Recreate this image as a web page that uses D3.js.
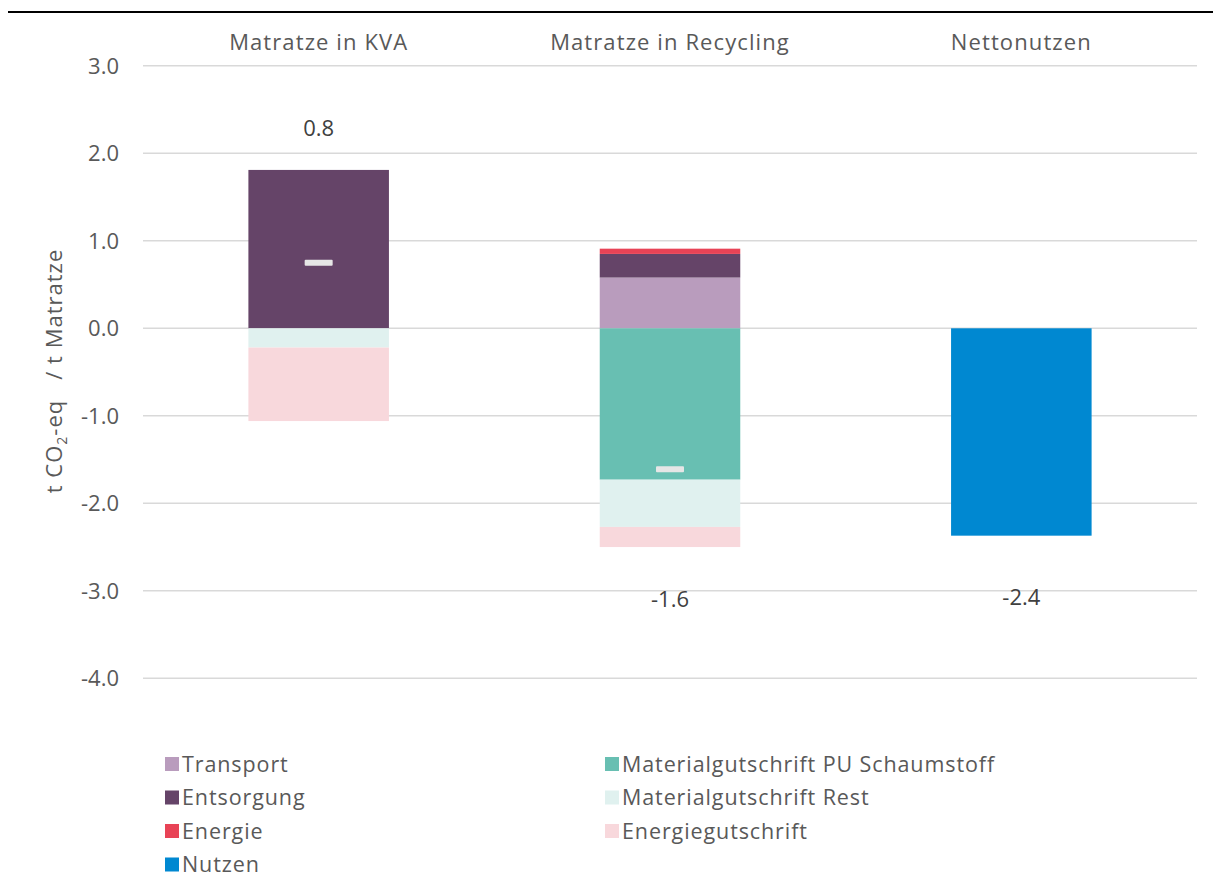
<!DOCTYPE html>
<html>
<head>
<meta charset="utf-8">
<script src="https://cdn.jsdelivr.net/npm/d3@7"></script>
<style>
  body { margin: 0; background: #fff; }
  text { font-family: "Open Sans", Lato, sans-serif; white-space: pre; }
</style>
</head>
<body>
<div id="chart"></div>
<script>
var categories = ["Matratze in KVA", "Matratze in Recycling", "Nettonutzen"];

var transport = [0, 0.58, 0];
var entsorgung = [1.81, 0.27, 0];
var energie = [0, 0.06, 0];
var matPU = [0, -1.73, 0];
var matRest = [-0.22, -0.54, 0];
var energieGut = [-0.84, -0.23, 0];
var nutzen = [0, 0, -2.37];

// Netto-Markierung und Beschriftung
var netto = [0.75, -1.61, null];
var nettoLabel = [0.8, -1.6, -2.4];
var labelAt = [2.29, -3.10, -3.07];

var yTicks = [3, 2, 1, 0, -1, -2, -3, -4];

var seriesNames = ["Transport", "Entsorgung", "Energie", "Materialgutschrift PU Schaumstoff",
    "Materialgutschrift Rest", "Energiegutschrift", "Nutzen"];
var seriesValues = [transport, entsorgung, energie, matPU, matRest, energieGut, nutzen];
var seriesColors = ["#b99cbd", "#654468", "#e84356", "#68bfb2", "#e0f1ef", "#f8d8dc", "#0088d1"];

var fmt = function (v) { return d3.format(".1f")(v).replace("\u2212", "-"); };

var width = 1213, height = 877;
var svg = d3.select("#chart").append("svg").attr("width", width).attr("height", height);

// top rule
svg.append("line").attr("x1", 8).attr("x2", width).attr("y1", 12).attr("y2", 12)
    .attr("stroke", "#000").attr("stroke-width", 2);

var x = d3.scaleBand().domain(categories).range([143, 1197]).padding(0);
var y = d3.scaleLinear().domain([-4, 3]).range([678.3, 65.8]);
var barW = x.bandwidth() * 0.4;

// grid
svg.append("g").selectAll("line").data(yTicks).enter().append("line")
    .attr("x1", 143).attr("x2", 1197)
    .attr("y1", function (d) { return y(d); }).attr("y2", function (d) { return y(d); })
    .attr("stroke", "#d9d9d9").attr("stroke-width", 1.5);

svg.append("g").selectAll("text").data(yTicks).enter().append("text")
    .attr("x", 119).attr("y", function (d) { return y(d); })
    .attr("dy", "0.35em").attr("text-anchor", "end")
    .attr("font-size", 22).attr("fill", "#595959")
    .text(fmt);

// category labels on top
svg.append("g").selectAll("text").data(categories).enter().append("text")
    .attr("x", function (d) { return x(d) + x.bandwidth() / 2; })
    .attr("y", 42).attr("dy", "0.35em").attr("text-anchor", "middle")
    .attr("font-size", 22).attr("letter-spacing", 1.1).attr("fill", "#595959")
    .text(function (d) { return d; });

// axis title
var title = svg.append("text")
    .attr("transform", "translate(62,371) rotate(-90)")
    .attr("text-anchor", "middle").attr("font-size", 22).attr("letter-spacing", 1)
    .attr("fill", "#595959");
title.append("tspan").text("t CO");
title.append("tspan").attr("font-size", 14).attr("dy", 5).text("2");
title.append("tspan").attr("dy", -5).text("-eq   / t Matratze");

// stacked bars
var rows = categories.map(function (c, i) {
    var r = { cat: c };
    seriesNames.forEach(function (s, j) { r[s] = seriesValues[j][i]; });
    return r;
});
var stack = d3.stack().keys(seriesNames).offset(d3.stackOffsetDiverging);
var layers = stack(rows);

svg.append("g").selectAll("g").data(layers).enter().append("g")
    .attr("fill", function (d, i) { return seriesColors[i]; })
    .selectAll("rect").data(function (d) { return d; }).enter()
    .filter(function (d) { return d[1] - d[0] !== 0; })
    .append("rect")
    .attr("x", function (d) { return x(d.data.cat) + (x.bandwidth() - barW) / 2; })
    .attr("y", function (d) { return y(Math.max(d[0], d[1])); })
    .attr("width", barW)
    .attr("height", function (d) { return Math.abs(y(d[0]) - y(d[1])); });

// net markers
svg.append("g").selectAll("rect").data(categories.filter(function (c, i) { return netto[i] !== null; }))
    .enter().append("rect")
    .attr("x", function (d) { return x(d) + x.bandwidth() / 2 - 14; })
    .attr("y", function (d) { return y(netto[categories.indexOf(d)]) - 3; })
    .attr("width", 28).attr("height", 6).attr("rx", 1)
    .attr("fill", "#e6e6e6");

// net labels
svg.append("g").selectAll("text").data(categories).enter().append("text")
    .attr("x", function (d) { return x(d) + x.bandwidth() / 2; })
    .attr("y", function (d, i) { return y(labelAt[i]); })
    .attr("dy", "0.35em").attr("text-anchor", "middle")
    .attr("font-size", 22).attr("fill", "#404040")
    .text(function (d, i) { return fmt(nettoLabel[i]); });

// legend
var legendCols = [[0, 1, 2, 6], [3, 4, 5]];
var legX = [165, 605];
legendCols.forEach(function (col, ci) {
    var g = svg.append("g");
    g.selectAll("rect").data(col).enter().append("rect")
        .attr("x", legX[ci]).attr("y", function (d, i) { return 757 + i * 33.5; })
        .attr("width", 14).attr("height", 14)
        .attr("fill", function (d) { return seriesColors[d]; });
    g.selectAll("text").data(col).enter().append("text")
        .attr("x", legX[ci] + 17).attr("y", function (d, i) { return 764 + i * 33.5; })
        .attr("dy", "0.35em").attr("font-size", 21.5).attr("letter-spacing", 0.9)
        .attr("fill", "#595959")
        .text(function (d) { return seriesNames[d]; });
});
</script>
</body>
</html>
